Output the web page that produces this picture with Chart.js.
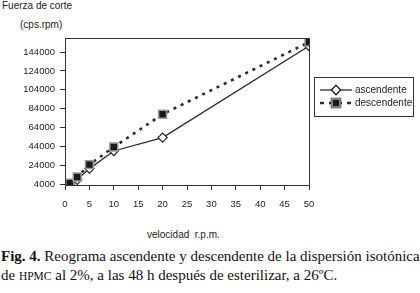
<!DOCTYPE html>
<html>
<head>
<meta charset="utf-8">
<script src="https://cdn.jsdelivr.net/npm/chart.js@4"></script>
<style>
  body { margin: 0; background: #fff; }
  #wrap { position: relative; width: 420px; height: 293px; overflow: hidden; }
  #chartBox { position: absolute; left: 0; top: 0; width: 420px; height: 215px; }
  .lbl { position: absolute; font-family: "Liberation Sans", Arial, sans-serif; font-size: 10px; color: #222; white-space: nowrap; line-height: 12px; }
  #caption { position: absolute; left: 1px; top: 247px; font-family: "Liberation Serif", "Times New Roman", serif; font-size: 15px; line-height: 19px; color: #111; white-space: nowrap; }
</style>
</head>
<body>
<div id="wrap">
  <div class="lbl" style="left:2px; top:0px;">Fuerza de corte</div>
  <div class="lbl" style="left:20px; top:19px;">(cps.rpm)</div>
  <div id="chartBox"><canvas id="chart"></canvas></div>
  <div class="lbl" style="left:147px; top:229px;">velocidad&nbsp; r.p.m.</div>
  <div id="caption"><b>Fig. 4.</b> Reograma ascendente y descendente de la dispersión isotónica<br>de <span style="font-size:11.5px">HPMC</span> al 2%, a las 48 h después de esterilizar, a 26ºC.</div>
</div>
<script>
// values
const velocidad = [1, 2.5, 5, 10, 20, 50];
const ascendente = [4000, 8500, 20400, 39100, 53300, 150400];
const descendente = [5000, 11400, 24600, 43300, 78100, 154600];
const yTicks = [4000, 24000, 44000, 64000, 84000, 104000, 124000, 144000];
const seriesNames = ['ascendente', 'descendente'];

const toPoints = (xs, ys) => xs.map((x, i) => ({ x: x, y: ys[i] }));

// box around the plot area
const frame = {
    id: 'frame',
    afterDatasetsDraw(chart) {
        const { ctx, chartArea: a } = chart;
        ctx.save();
        ctx.strokeStyle = '#333';
        ctx.lineWidth = 1;
        ctx.strokeRect(a.left + 0.5, a.top + 0.5, a.right - a.left, a.bottom - a.top);
        ctx.restore();
    }
};

// legend drawn to the right of the plot
const sideLegend = {
    id: 'sideLegend',
    afterDraw(chart) {
        const ctx = chart.ctx;
        ctx.save();
        ctx.strokeStyle = '#333';
        ctx.lineWidth = 1;
        ctx.strokeRect(314.5, 77.5, 99, 39);
        chart.data.datasets.forEach((ds, i) => {
            const y = 90 + i * 13;
            ctx.beginPath();
            ctx.strokeStyle = ds.borderColor;
            ctx.lineWidth = ds.borderWidth;
            ctx.setLineDash(ds.borderDash ? [4, 5] : []);
            ctx.moveTo(320, y);
            ctx.lineTo(352, y);
            ctx.stroke();
            ctx.setLineDash([]);
            Chart.helpers.drawPoint(ctx, {
                pointStyle: ds.pointStyle,
                radius: ds.pointRadius,
                borderWidth: ds.pointBorderWidth
            }, 336, y);
            ctx.fillStyle = ds.pointBackgroundColor;
            ctx.strokeStyle = ds.pointBorderColor;
            ctx.lineWidth = ds.pointBorderWidth;
            ctx.fill();
            ctx.stroke();
            ctx.fillStyle = '#222';
            ctx.font = '10px "Liberation Sans", Arial, sans-serif';
            ctx.textBaseline = 'middle';
            ctx.fillText(seriesNames[i], 355, y);
        });
        ctx.restore();
    }
};

new Chart(document.getElementById('chart'), {
    type: 'scatter',
    data: {
        datasets: [
            {
                label: seriesNames[0],
                data: toPoints(velocidad, ascendente),
                showLine: true,
                borderColor: '#2a2a2a',
                borderWidth: 1.3,
                pointStyle: 'rectRot',
                pointRadius: 4.6,
                pointBackgroundColor: '#fff',
                pointBorderColor: '#222',
                pointBorderWidth: 1.2,
                order: 1
            },
            {
                label: seriesNames[1],
                data: toPoints(velocidad, descendente),
                showLine: true,
                borderColor: '#2a2a2a',
                borderWidth: 2.6,
                borderDash: [3, 5],
                pointStyle: 'rect',
                pointRadius: 5.6,
                pointBackgroundColor: '#1a1a1a',
                pointBorderColor: '#9a9a9a',
                pointBorderWidth: 1.5,
                order: 0
            }
        ]
    },
    options: {
        responsive: true,
        maintainAspectRatio: false,
        animation: false,
        layout: { padding: { top: 38, right: 111, left: 0, bottom: 0 } },
        plugins: {
            legend: { display: false },
            tooltip: { enabled: false }
        },
        scales: {
            x: {
                type: 'linear',
                min: 0,
                max: 50,
                afterFit(scale) { scale.height = 30; },
                ticks: {
                    stepSize: 5,
                    padding: 9,
                    color: '#222',
                    font: { family: '"Liberation Sans", Arial, sans-serif', size: 9.5 }
                },
                grid: { drawOnChartArea: false, tickLength: 5, color: '#333' },
                border: { color: '#333' }
            },
            y: {
                min: 3000,
                max: 159000,
                afterFit(scale) { scale.width = 65; },
                afterBuildTicks(scale) { scale.ticks = yTicks.map(v => ({ value: v })); },
                ticks: {
                    padding: 5,
                    color: '#222',
                    font: { family: '"Liberation Sans", Arial, sans-serif', size: 9.5 },
                    callback: v => String(v)
                },
                grid: { drawOnChartArea: false, tickLength: 5, color: '#333' },
                border: { color: '#333' }
            }
        }
    },
    plugins: [frame, sideLegend]
});
</script>
</body>
</html>
